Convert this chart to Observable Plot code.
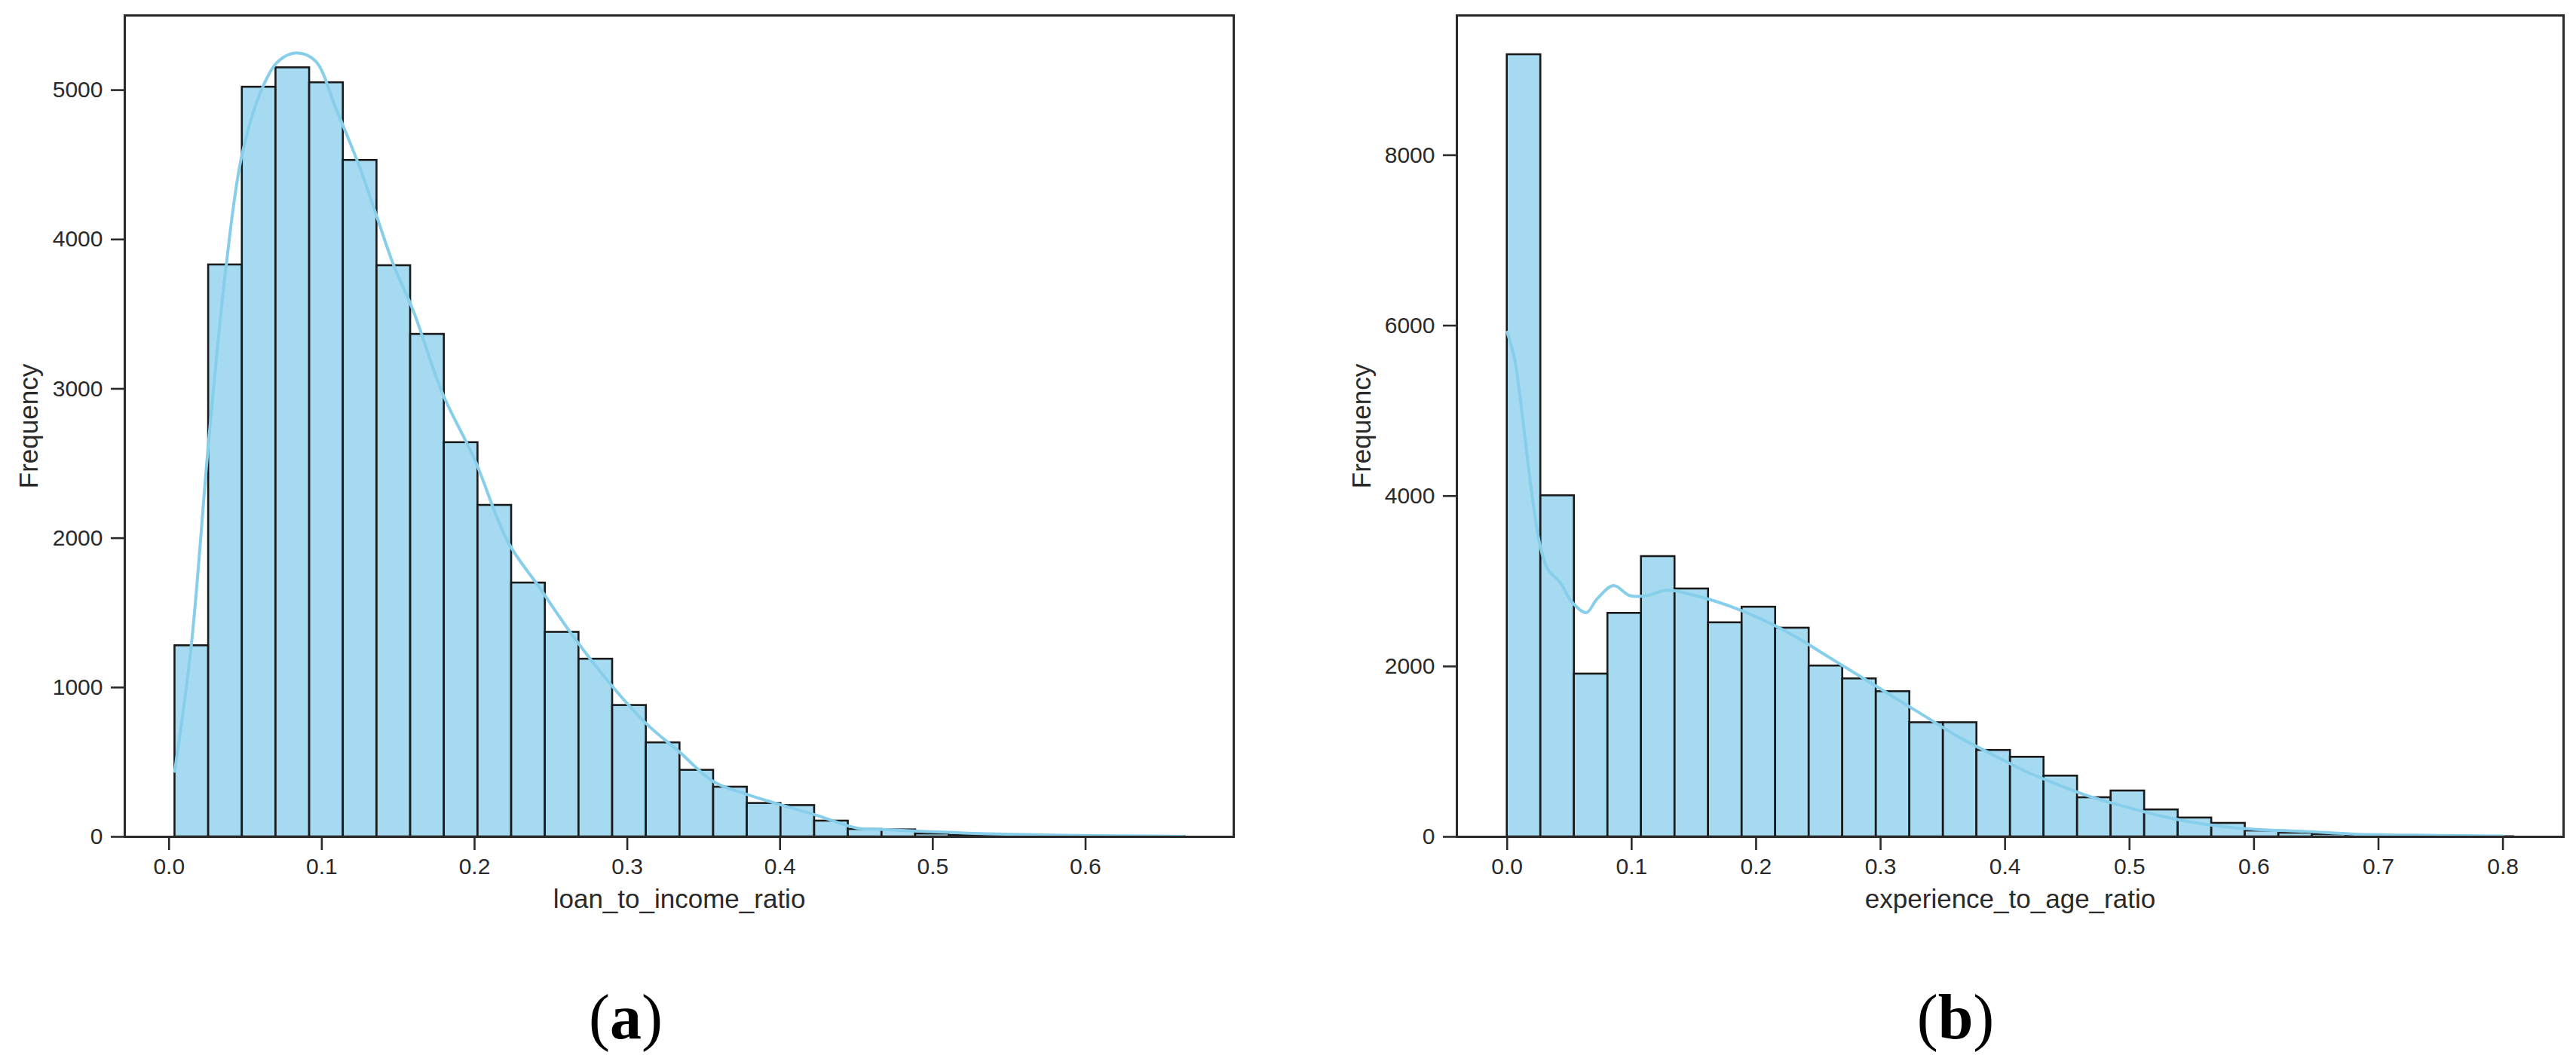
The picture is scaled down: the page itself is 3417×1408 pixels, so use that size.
<!DOCTYPE html>
<html>
<head>
<meta charset="utf-8">
<script src="https://cdn.jsdelivr.net/npm/d3@7"></script>
<script src="https://cdn.jsdelivr.net/npm/@observablehq/plot@0.6"></script>
<style>
  html, body { margin: 0; padding: 0; background: #ffffff; }
  #wrap { position: relative; width: 3417px; height: 1408px; background: #ffffff; overflow: hidden; }
  .panel { position: absolute; top: 0; }
  .cap { position: absolute; top: 1300px; width: 300px; margin-left: -150px; text-align: center;
         font-family: "Liberation Serif", "Times New Roman", serif; font-size: 84px; line-height: 100px; color: #000; }
  .cap b { font-weight: bold; }
</style>
</head>
<body>
<div id="wrap">
  <div id="pa" class="panel" style="left:0px"></div>
  <div id="pb" class="panel" style="left:1700px"></div>
  <div class="cap" style="left:830px">(<b>a</b>)</div>
  <div class="cap" style="left:2594px">(<b>b</b>)</div>
</div>
<script>
// ---- Panel (a): loan_to_income_ratio ----
const labelA = "loan_to_income_ratio";
const rangeA = [0.0038, 0.665];           // histogram data range (30 bins)
const countsA = [1280, 3830, 5020, 5150, 5050, 4530, 3825, 3365, 2640, 2220,
                 1700, 1370, 1190, 880, 630, 446, 333, 224, 210, 106,
                 50, 47, 20, 10, 8, 5, 4, 3, 2, 1];
const kdeAx = [0.0037, 0.0145, 0.026, 0.037, 0.0476, 0.061, 0.0717, 0.0835, 0.0958, 0.1092,
               0.1253, 0.136, 0.1467, 0.16, 0.1788, 0.2002, 0.2216, 0.243, 0.2644, 0.2885,
               0.3126, 0.3337, 0.3564, 0.3778, 0.399, 0.4219, 0.4497, 0.4648, 0.4875, 0.51,
               0.5354, 0.5858, 0.664];
const kdeAy = [439, 1277, 2658, 3790, 4560, 5013, 5195, 5249, 5195, 4878,
               4470, 4153, 3836, 3519, 2975, 2523, 1979, 1662, 1345, 1028,
               756, 572, 370, 286, 219, 151, 60, 50, 39, 30,
               20, 10, 3];
const xTicksA = [0, 0.1, 0.2, 0.3, 0.4, 0.5, 0.6];
const yTicksA = [0, 1000, 2000, 3000, 4000, 5000];
const xDomainA = [-0.029, 0.697];
const yDomainA = [0, 5500];

// ---- Panel (b): experience_to_age_ratio ----
const labelB = "experience_to_age_ratio";
const rangeB = [0, 0.8085];
const countsB = [9180, 4004, 1911, 2624, 3290, 2910, 2513, 2696, 2450, 2006,
                 1855, 1705, 1340, 1340, 1015, 935, 714, 460, 539, 317,
                 222, 159, 70, 45, 30, 15, 8, 5, 3, 2];
const kdeBx = [0, 0.006, 0.0126, 0.0192, 0.0258, 0.0324, 0.0424, 0.0523, 0.0636, 0.0722,
               0.0854, 0.0986, 0.1119, 0.1284, 0.1516, 0.1781, 0.2046, 0.231, 0.2575, 0.284,
               0.3105, 0.337, 0.3634, 0.3899, 0.4164, 0.4429, 0.4694, 0.4958, 0.5223, 0.5488,
               0.5753, 0.6018, 0.6415, 0.6812, 0.7474, 0.80];
const kdeBy = [5922, 5605, 4892, 4099, 3464, 3147, 2989, 2751, 2632, 2791,
               2949, 2830, 2830, 2894, 2830, 2711, 2553, 2355, 2117, 1879,
               1641, 1403, 1165, 967, 769, 610, 468, 357, 254, 174,
               119, 87, 63, 32, 16, 8];
const xTicksB = [0, 0.1, 0.2, 0.3, 0.4, 0.5, 0.6, 0.7, 0.8];
const yTicksB = [0, 2000, 4000, 6000, 8000];
const xDomainB = [-0.0404, 0.8487];
const yDomainB = [0, 9640];

const INK = "#2a2a2a";
const BAR_FILL = "#87CEEB";   // skyblue
const KDE = "#87CEEB";

function makeBins(range, counts) {
  const n = counts.length, w = (range[1] - range[0]) / n;
  return counts.map((c, i) => ({x1: range[0] + i * w, x2: range[0] + (i + 1) * w, count: c}));
}

function panel(o) {
  const bins = makeBins(o.range, o.counts);
  const kde = o.kx.map((x, i) => ({x, y: o.ky[i]}));
  return Plot.plot({
    width: o.width, height: 1260,
    marginLeft: o.ml, marginRight: o.mr, marginTop: 20, marginBottom: 150,
    style: {fontFamily: '"Liberation Sans", Arial, sans-serif', fontSize: "30px", color: INK, background: "#ffffff", overflow: "visible"},
    x: {domain: o.xd},
    y: {domain: o.yd},
    marks: [
      Plot.rectY(bins, {x1: "x1", x2: "x2", y: "count", fill: BAR_FILL, fillOpacity: 0.75,
                        stroke: "#1a1a1a", strokeWidth: 2.6, inset: 0}),
      Plot.line(kde, {x: "x", y: "y", stroke: KDE, strokeWidth: 4, curve: "catmull-rom"}),
      Plot.axisX(o.xt, {tickSize: 18, tickPadding: 10, strokeWidth: 2.6, fontSize: 30,
                        tickFormat: d3.format(".1f"), label: null}),
      Plot.axisY(o.yt, {tickSize: 18, tickPadding: 11, strokeWidth: 2.6, fontSize: 30,
                        tickFormat: d3.format("d"), label: null}),
      Plot.text([o.label], {frameAnchor: "bottom", dy: 83, fontSize: 35, fill: INK,
                            textAnchor: "middle", lineAnchor: "middle"}),
      Plot.text(["Frequency"], {frameAnchor: "left", dx: o.fdx, rotate: -90, fontSize: 35, fill: INK,
                               textAnchor: "middle", lineAnchor: "middle"}),
      Plot.frame({stroke: INK, strokeWidth: 3})
    ]
  });
}

document.getElementById("pa").appendChild(panel({
  width: 1700, ml: 165, mr: 64, range: rangeA, counts: countsA, kx: kdeAx, ky: kdeAy,
  xt: xTicksA, yt: yTicksA, xd: xDomainA, yd: yDomainA, label: labelA, fdx: -127
}));
document.getElementById("pb").appendChild(panel({
  width: 1717, ml: 232, mr: 17, range: rangeB, counts: countsB, kx: kdeBx, ky: kdeBy,
  xt: xTicksB, yt: yTicksB, xd: xDomainB, yd: yDomainB, label: labelB, fdx: -126
}));
</script>
</body>
</html>
